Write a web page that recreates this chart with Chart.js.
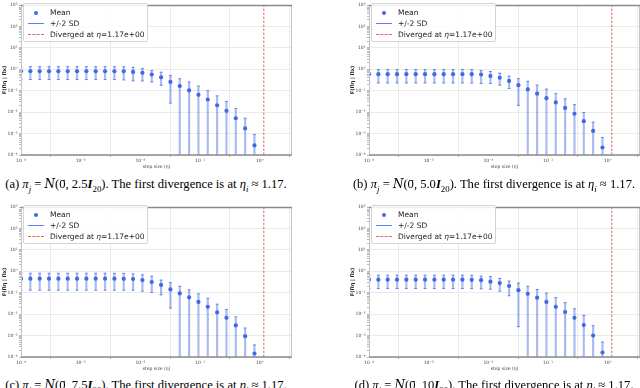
<!DOCTYPE html>
<html>
<head>
<meta charset="utf-8">
<script src="https://cdn.jsdelivr.net/npm/chart.js@4.4.1/dist/chart.umd.min.js"></script>
<style>
html, body { margin: 0; padding: 0; width: 640px; height: 388px; overflow: hidden; background: #fff; }
.panel { position: absolute; width: 320px; height: 176px; }
.panel canvas { position: absolute; left: 0; top: 0; }
.legend { position: absolute; left: 23px; top: 3px; width: 123px; height: 37px; border: 1px solid #d4d4d4;
  border-radius: 2px; background: rgba(255,255,255,0.85); font: 7.5px "DejaVu Sans", sans-serif; color: #222; }
.legend .row { position: absolute; left: 0; width: 123px; height: 11px; }
.legend .txt { position: absolute; left: 26px; top: 0; line-height: 11px; white-space: nowrap; }
.legend .dot { position: absolute; left: 10px; top: 4px; width: 4px; height: 4px; border-radius: 2px; background: #4169e1; }
.legend .ln { position: absolute; left: 4px; top: 5px; width: 16px; height: 1px; background: #5b80f0; }
.legend .dash { position: absolute; left: 4px; top: 5px; width: 16px; height: 0; border-top: 1px dashed rgba(235,80,80,0.9); }
.caption { position: absolute; width: 292px; height: 15px; display: flex; justify-content: center; white-space: nowrap;
  font: 12.6px "Liberation Serif", "DejaVu Serif", serif; line-height: 15px; color: #000; }
.caption sub { font-size: 0.7em; line-height: 0; }
.vec { position: relative; }
.vec::after { content: "\2192"; position: absolute; left: 0.02em; top: -0.6em; font-size: 0.6em; }
.calN { font-style: italic; font-family: "DejaVu Serif", serif; font-size: 0.95em; }
</style>
</head>
<body>
<script>
// step sizes eta_i (the next one, 1.17, diverged)
const stepSizes = [1.0e-4, 1.434e-4, 2.056e-4, 2.947e-4, 4.225e-4, 6.058e-4, 8.685e-4, 1.245e-3, 1.785e-3,
  2.560e-3, 3.670e-3, 5.262e-3, 7.544e-3, 1.082e-2, 1.551e-2, 2.223e-2, 3.188e-2, 4.570e-2, 6.552e-2,
  9.394e-2, 0.1347, 0.1931, 0.2768, 0.3969, 0.5690, 0.8158];
const divergeAt = 1.17;

// (a) 2.5 I
const meanA = [0.81, 0.81, 0.81, 0.81, 0.81, 0.81, 0.81, 0.81, 0.81, 0.81, 0.81, 0.80, 0.75, 0.68, 0.57, 0.42,
  0.256, 0.164, 0.103, 0.064, 0.039, 0.0208, 0.0115, 0.0052, 0.00174, 0.00028];
const upperA = [1.33, 1.33, 1.33, 1.33, 1.33, 1.33, 1.33, 1.33, 1.33, 1.33, 1.33, 1.32, 1.23, 1.08, 0.87, 0.73,
  0.52, 0.362, 0.256, 0.164, 0.10, 0.0574, 0.0316, 0.0147, 0.0052, 0.0009];
const lowerA = [0.33, 0.33, 0.33, 0.33, 0.33, 0.33, 0.33, 0.33, 0.33, 0.33, 0.33, 0.32, 0.29, 0.285, 0.256, 0.18,
  0.0265, 0, 0, 0, 0, 0, 0, 0, 0, 0];

// (b) 5.0 I
const meanB = [0.593, 0.593, 0.593, 0.593, 0.593, 0.593, 0.593, 0.593, 0.593, 0.593, 0.593, 0.59, 0.57, 0.481,
  0.403, 0.285, 0.182, 0.115, 0.0731, 0.0447, 0.0285, 0.0157, 0.0084, 0.0038, 0.00133, 0.000224];
const upperB = [0.97, 0.97, 0.97, 0.97, 0.97, 0.97, 0.97, 0.97, 0.97, 0.97, 0.97, 0.96, 0.873, 0.786, 0.658,
  0.481, 0.362, 0.276, 0.182, 0.119, 0.0731, 0.042, 0.0224, 0.0097, 0.0034, 0.00066];
const lowerB = [0.231, 0.231, 0.231, 0.231, 0.231, 0.231, 0.231, 0.231, 0.231, 0.231, 0.231, 0.23, 0.215, 0.215,
  0.182, 0.127, 0.0208, 0, 0, 0, 0, 0, 0, 0, 0, 0];

// (c) 7.5 I
const meanC = [0.45, 0.45, 0.45, 0.45, 0.45, 0.45, 0.45, 0.45, 0.45, 0.45, 0.45, 0.445, 0.432, 0.388, 0.315,
  0.23, 0.142, 0.093, 0.061, 0.0372, 0.022, 0.0121, 0.0067, 0.00298, 0.00094, 0.000146];
const upperC = [0.81, 0.81, 0.81, 0.81, 0.81, 0.81, 0.81, 0.81, 0.81, 0.81, 0.81, 0.80, 0.76, 0.685, 0.59,
  0.388, 0.295, 0.2, 0.136, 0.089, 0.055, 0.0292, 0.0166, 0.00745, 0.00225, 0.000365];
const lowerC = [0.131, 0.131, 0.131, 0.131, 0.131, 0.131, 0.131, 0.131, 0.131, 0.131, 0.131, 0.131, 0.131,
  0.118, 0.103, 0.08, 0.0192, 0, 0, 0, 0, 0, 0, 0, 0, 0];

// (d) 10 I
const meanD = [0.405, 0.405, 0.405, 0.405, 0.405, 0.405, 0.405, 0.405, 0.405, 0.405, 0.405, 0.40, 0.385, 0.328,
  0.283, 0.206, 0.131, 0.089, 0.0585, 0.0372, 0.022, 0.0126, 0.0067, 0.00308, 0.00101, 0.000162];
const upperD = [0.656, 0.656, 0.656, 0.656, 0.656, 0.656, 0.656, 0.656, 0.656, 0.656, 0.656, 0.65, 0.59, 0.573,
  0.464, 0.349, 0.283, 0.2, 0.142, 0.096, 0.0585, 0.0346, 0.0178, 0.0088, 0.00289, 0.0005];
const lowerD = [0.157, 0.157, 0.157, 0.157, 0.157, 0.157, 0.157, 0.157, 0.157, 0.157, 0.157, 0.155, 0.152, 0.146,
  0.118, 0.072, 0.0026, 0, 0, 0, 0, 0, 0, 0, 0, 0];

const xTicks = [1e-4, 1e-3, 1e-2, 1e-1, 1];
const xTickLabels = ['10\u207B\u2074', '10\u207B\u00B3', '10\u207B\u00B2', '10\u207B\u00B9', '10\u2070'];
const yTicks = [1e-4, 1e-3, 1e-2, 1e-1, 1, 1e1, 1e2, 1e3];
const yTickLabels = ['10\u207B\u2074', '10\u207B\u00B3', '10\u207B\u00B2', '10\u207B\u00B9', '10\u2070', '10\u00B9', '10\u00B2', '10\u00B3'];
const xMax = 3.47;

const legendLabels = ['Mean', '+/-2 SD', 'Diverged at <i>\u03B7</i>=1.17e+00'];
const captionLetters = ['a', 'b', 'c', 'd'];
const captionScales = ['2.5', '5.0', '7.5', '10'];

const panels = [
  { left: 0, top: 0, capTop: 177, mean: meanA, upper: upperA, lower: lowerA },
  { left: 348, top: 0, capTop: 177, mean: meanB, upper: upperB, lower: lowerB },
  { left: 0, top: 202, capTop: 378, mean: meanC, upper: upperC, lower: lowerC },
  { left: 348, top: 202, capTop: 378, mean: meanD, upper: upperD, lower: lowerD },
];

const blue = '#4169e1';
const tickFont = { family: 'DejaVu Sans', size: 4.5 };

// matplotlib-like spines
const frame = {
  id: 'frame',
  afterDatasetsDraw(chart) {
    const { ctx, chartArea: a } = chart;
    ctx.save();
    ctx.strokeStyle = '#c4c4c4';
    ctx.lineWidth = 1;
    ctx.beginPath();
    ctx.moveTo(a.left + 0.5, a.top); ctx.lineTo(a.left + 0.5, a.bottom);
    ctx.moveTo(a.right - 0.5, a.top); ctx.lineTo(a.right - 0.5, a.bottom);
    ctx.stroke();
    ctx.strokeStyle = '#8a8a8a';
    ctx.lineWidth = 1.6;
    ctx.beginPath();
    ctx.moveTo(a.left, a.top + 0.5); ctx.lineTo(a.right, a.top + 0.5);
    ctx.moveTo(a.left, a.bottom); ctx.lineTo(a.right, a.bottom);
    ctx.stroke();
    ctx.restore();
  }
};

function yMinorTicks() {
  const out = [];
  for (let k = 0; k < yTicks.length; k++) {
    out.push({ value: yTicks[k], major: true });
    if (k < yTicks.length - 1) {
      for (let m = 2; m <= 9; m++) out.push({ value: m * yTicks[k], major: false });
    }
  }
  return out;
}

function makeChart(canvas, p) {
  const yMin = yTicks[0], yMax = yTicks[yTicks.length - 1];
  const means = stepSizes.map((x, i) => ({ x: x, y: p.mean[i] }));
  const bars = stepSizes.map((x, i) => ({ x: x, y: [p.lower[i] > 0 ? p.lower[i] : yMin, p.upper[i]] }));
  const hiCaps = stepSizes.map((x, i) => ({ x: x, y: p.upper[i] }));
  const loCaps = stepSizes.map((x, i) => ({ x: x, y: p.lower[i] > 0 ? p.lower[i] : null }));

  return new Chart(canvas, {
    type: 'scatter',
    data: {
      datasets: [
        { label: 'Mean', data: means, pointRadius: 2.1, backgroundColor: blue, borderWidth: 0 },
        { label: 'cap hi', data: hiCaps, pointStyle: 'line', pointRadius: 1.5, borderColor: 'rgba(65,105,225,0.7)', borderWidth: 1 },
        { label: 'cap lo', data: loCaps, pointStyle: 'line', pointRadius: 1.5, borderColor: 'rgba(65,105,225,0.7)', borderWidth: 1 },
        { type: 'bar', label: '+/-2 SD', data: bars, barThickness: 1.5, backgroundColor: 'rgba(65,105,225,0.45)', borderWidth: 0 },
        { type: 'line', label: 'Diverged', data: [{ x: divergeAt, y: yMin }, { x: divergeAt, y: yMax }],
          borderColor: 'rgba(235,75,75,0.9)', borderDash: [2.5, 1.5], borderWidth: 1, pointRadius: 0 },
      ]
    },
    options: {
      responsive: false,
      animation: false,
      layout: { padding: { top: 1, right: 28, bottom: 1, left: 0 } },
      plugins: { legend: { display: false }, tooltip: { enabled: false } },
      scales: {
        x: {
          type: 'logarithmic', min: 1e-4, max: xMax,
          afterFit: (s) => { s.height = 20; },
          afterBuildTicks: (s) => { s.ticks = xTicks.map(v => ({ value: v, major: true })); },
          ticks: { autoSkip: false, maxRotation: 0, padding: 1, font: tickFont, color: '#444',
            callback: (v, i) => xTickLabels[i] },
          grid: { color: '#e6e6e6', lineWidth: 0.8, tickColor: '#999', tickLength: 2 },
          border: { display: false },
          title: { display: true, text: 'step size (\u03B7)', font: tickFont, color: '#444', padding: { top: 0, bottom: 5 } }
        },
        y: {
          type: 'logarithmic', min: yMin, max: yMax,
          afterFit: (s) => { s.width = 21; },
          afterBuildTicks: (s) => { s.ticks = yMinorTicks(); },
          ticks: { autoSkip: false, padding: 1.5, font: tickFont, color: '#444',
            callback: (v) => { const k = yTicks.indexOf(v); return k >= 0 ? yTickLabels[k] : ''; } },
          grid: {
            color: (c) => (c.tick && c.tick.major) ? '#e6e6e6' : 'rgba(0,0,0,0)',
            lineWidth: 0.8, tickColor: '#aaa', tickLength: 2
          },
          border: { display: false },
          title: { display: true, text: 'F(\u03A0\u03B7 | \u03A0x)', font: { family: 'DejaVu Sans', size: 5, weight: 'bold' }, color: '#222', padding: { top: 1.5, bottom: 0 } }
        }
      }
    },
    plugins: [frame]
  });
}

panels.forEach((p, n) => {
  const div = document.createElement('div');
  div.className = 'panel';
  div.style.left = p.left + 'px';
  div.style.top = p.top + 'px';
  const canvas = document.createElement('canvas');
  canvas.width = 320; canvas.height = 176;
  div.appendChild(canvas);

  const lg = document.createElement('div');
  lg.className = 'legend';
  const handles = ['<span class="dot"></span>', '<span class="ln"></span>', '<span class="dash"></span>'];
  lg.innerHTML = legendLabels.map((t, i) =>
    '<div class="row" style="top:' + (2.5 + 11 * i) + 'px">' + handles[i] + '<span class="txt">' + t + '</span></div>').join('');
  div.appendChild(lg);
  document.body.appendChild(div);
  makeChart(canvas, p);

  const cap = document.createElement('div');
  cap.className = 'caption';
  cap.style.left = p.left + 'px';
  cap.style.top = p.capTop + 'px';
  cap.innerHTML = '<span>(' + captionLetters[n] + ') <i>\u03C0<sub>j</sub></i> = <span class="calN">N</span>(<span class="vec">0</span>, ' +
    captionScales[n] + '<b><i>I</i></b><sub>20</sub>). The first divergence is at <i>\u03B7<sub>i</sub></i> \u2248 1.17.</span>';
  document.body.appendChild(cap);
});
</script>
</body>
</html>
